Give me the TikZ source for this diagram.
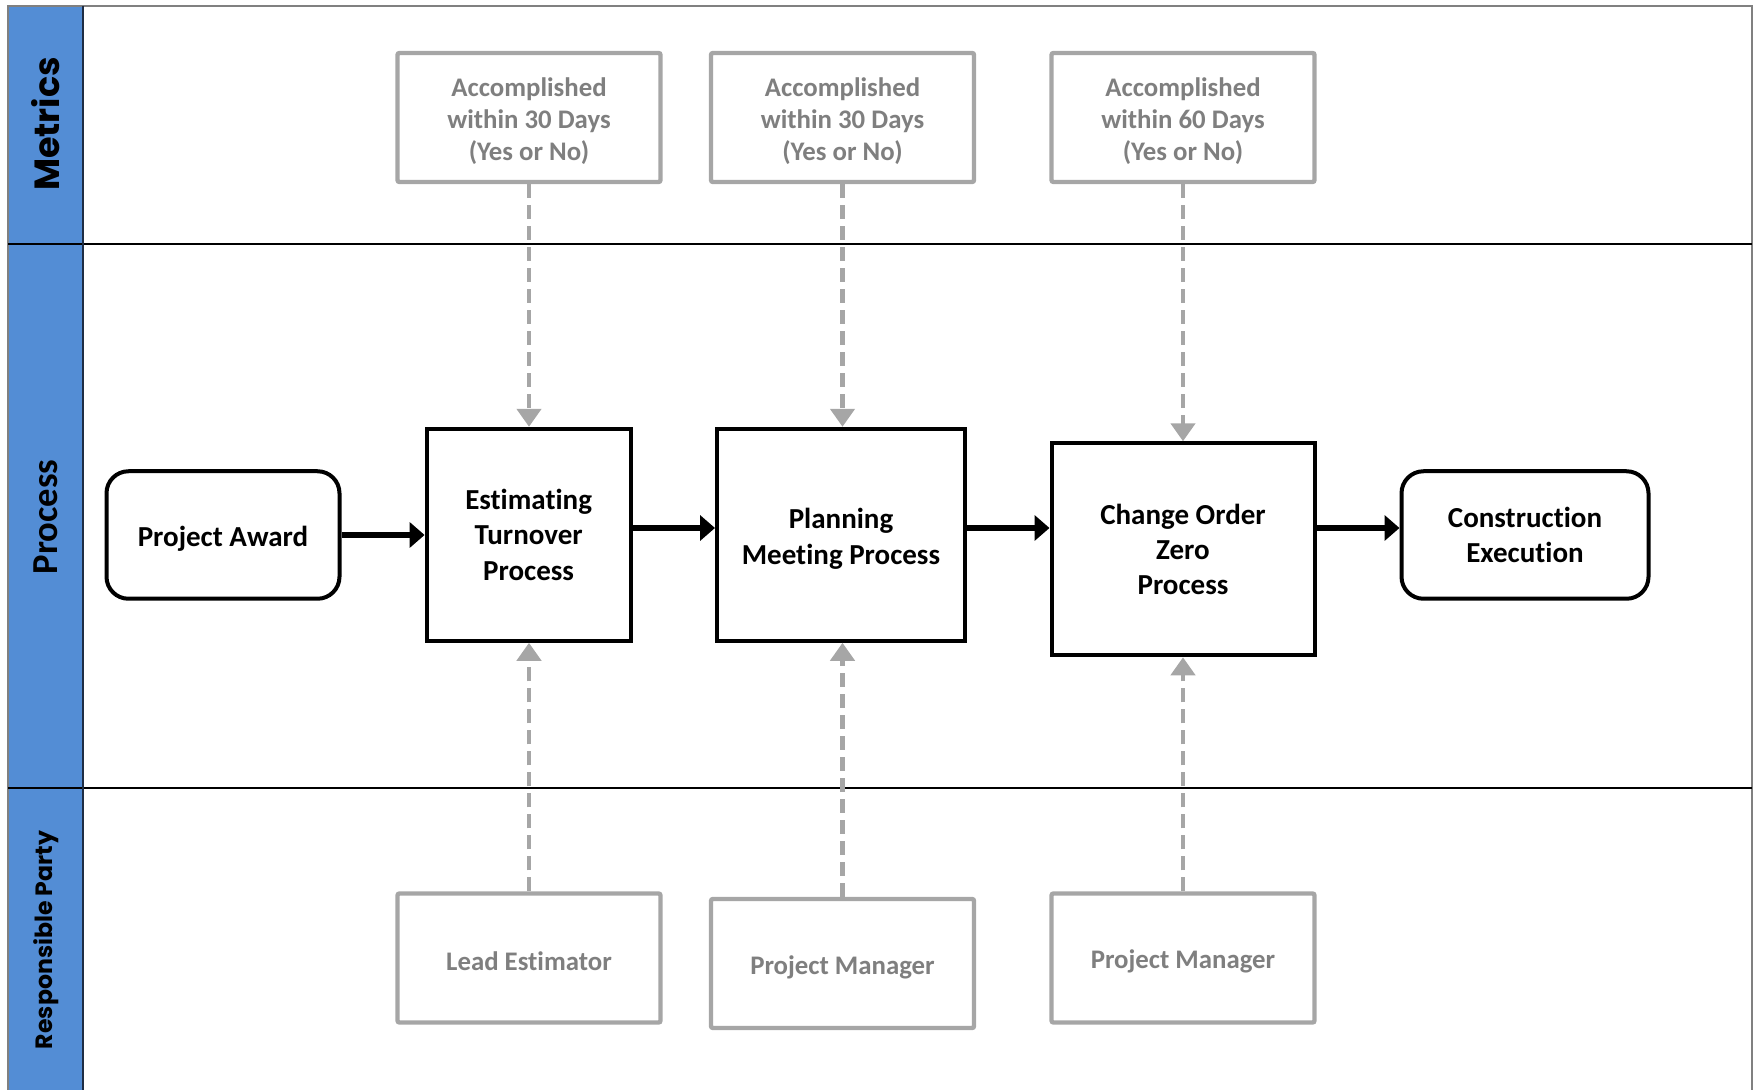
\documentclass[tikz,border=0pt]{standalone}
\usepackage{fontspec}
\setmainfont{Carlito}[Ligatures=NoCommon]
\newfontfamily\lanefont{Poppins}
\usetikzlibrary{arrows.meta}
\definecolor{laneblue}{HTML}{538DD5}
\definecolor{lanerule}{HTML}{1F2D44}
\definecolor{framegray}{HTML}{808080}
\definecolor{boxgray}{HTML}{A6A6A6}
\definecolor{textgray}{HTML}{7F7F7F}
% invisible strut that lowers the first line of a box label
\newcommand\headstrut{\rule{0pt}{0.97em}}

\begin{document}
\begin{tikzpicture}[x=0.5pt,y=-0.5pt,
  boxtext/.style={execute at begin node={\headstrut}},
  proc/.style={draw=black, line width=2pt, fill=white, align=center, inner sep=0pt, boxtext,
    font=\fontsize{14.5}{17.6}\selectfont\bfseries},
  term/.style={proc, rounded corners=11pt, minimum width=116.5pt, minimum height=63.75pt},
  task/.style={proc, minimum height=106pt},
  info/.style={draw=boxgray, line width=2.2pt, rounded corners=1pt, fill=white, boxtext,
    text=textgray, align=center, inner sep=0pt, minimum width=131.5pt, minimum height=64.5pt,
    font=\fontsize{13.4}{16}\selectfont\bfseries},
  flow/.style={line width=3pt, -{Triangle[width=12.5pt,length=7.5pt]}},
  link/.style={draw=boxgray, line width=2.3pt, dash pattern=on 7pt off 3.5pt,
    -{Triangle[width=12pt,length=9pt,fill=boxgray]}},
  lanelabel/.style={rotate=90, inner sep=0pt, text=black}
]
\useasboundingbox (0,0) rectangle (1756,1090);

% swimlane frame
\fill[laneblue] (8,6) rectangle (83,1090);
\draw[framegray, line width=1pt] (8,1090) -- (8,6) -- (1752,6) -- (1752,1090);
\draw[black, line width=1.2pt] (8,244) -- (1752,244);
\draw[black, line width=1.2pt] (8,788) -- (1752,788);
\draw[lanerule, line width=1.2pt] (83,6) -- (83,1090);

% lane titles
\node[lanelabel, font=\lanefont\fontsize{17.5}{20}\selectfont\bfseries] (lmet) at (46,124) {Metrics};
\node[lanelabel, font=\fontsize{18.3}{20}\selectfont\bfseries] (lproc) at (46,517) {Process};
\node[lanelabel, font=\lanefont\fontsize{11.8}{14}\selectfont\bfseries] (lresp) at (46,940) {Responsible Party};

% metrics
\node[info] (m1) at (529,117.5) {\headstrut Accomplished\\within 30 Days\\(Yes or No)};
\node[info] (m2) at (842.5,117.5) {\headstrut Accomplished\\within 30 Days\\(Yes or No)};
\node[info] (m3) at (1183,117.5) {\headstrut Accomplished\\within 60 Days\\(Yes or No)};

% process steps
\node[term] (award) at (223,535) {Project Award};
\node[task, minimum width=102pt] (est) at (528.6,534.8) {Estimating\\Turnover\\Process};
\node[task, minimum width=124pt] (plan) at (841,534.8) {\headstrut Planning\\Meeting Process};
\node[task, minimum width=131.5pt] (cozp) at (1183,549.3) {Change Order\\Zero\\Process};
\node[term, minimum width=123.5pt] (exec) at (1525,535) {Construction\\Execution};

% responsible parties
\node[info] (r1) at (529,958) {Lead Estimator};
\node[info] (r2) at (842.5,963.5) {Project Manager};
\node[info] (r3) at (1183,958) {Project Manager};

% main flow
\draw[flow] (award.east) -- (est.west |- award.east);
\draw[flow] (est.east |- 0,528) -- (plan.west |- 0,528);
\draw[flow] (plan.east |- 0,528) -- (cozp.west |- 0,528);
\draw[flow] (cozp.east |- 0,528) -- (exec.west |- 0,528);

% metric links
\draw[link] (m1.south) -- (m1.south |- est.north);
\draw[link] (m2.south) -- (m2.south |- plan.north);
\draw[link] (m3.south) -- (m3.south |- cozp.north);

% responsibility links
\draw[link] (r1.north) -- (r1.north |- est.south);
\draw[link] (r2.north) -- (r2.north |- plan.south);
\draw[link] (r3.north) -- (r3.north |- cozp.south);
\end{tikzpicture}
\end{document}
